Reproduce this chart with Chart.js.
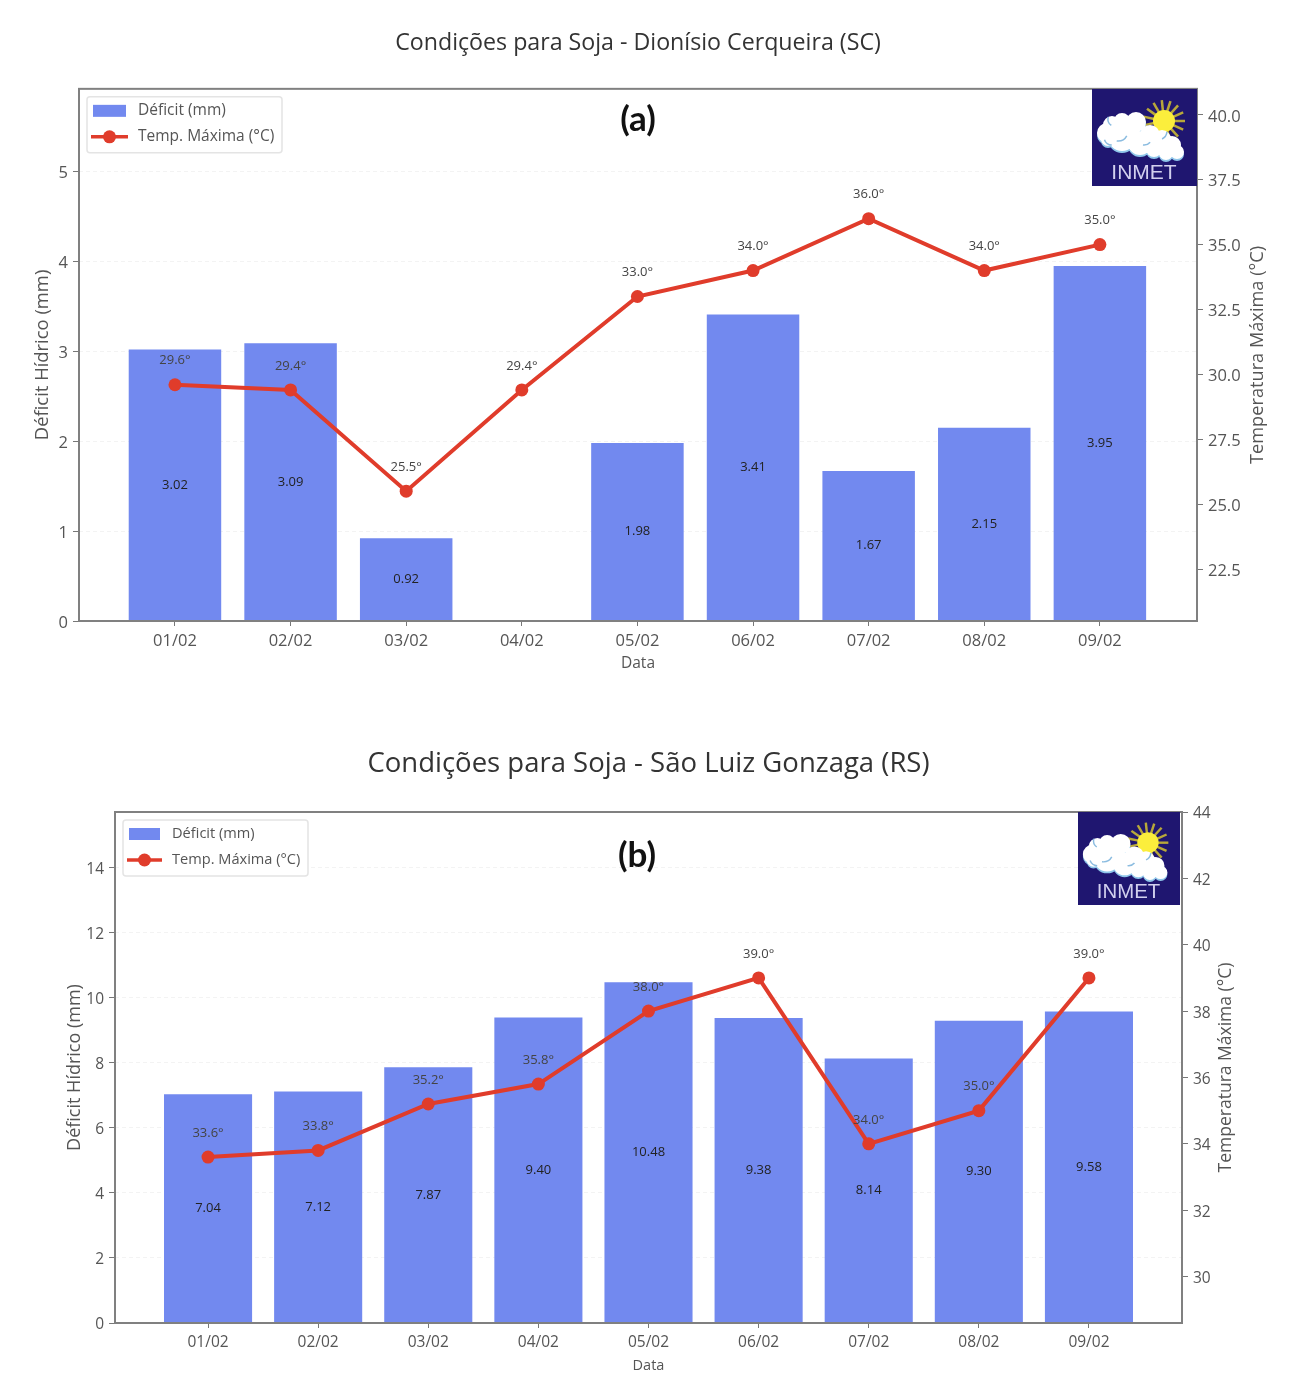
<!DOCTYPE html>
<html>
<head>
<meta charset="utf-8">
<style>
  html, body { margin: 0; padding: 0; background: #fff; }
  #page { position: relative; width: 1306px; height: 1382px; filter: blur(0.5px); }
  canvas { position: absolute; left: 0; }
</style>
<script src="https://cdn.jsdelivr.net/npm/chart.js@4/dist/chart.umd.min.js"></script>
</head>
<body>
<div id="page">
  <canvas id="chartA" style="top:0"></canvas>
  <canvas id="chartB" style="top:700px"></canvas>
</div>
<script>
const categories = ["01/02", "02/02", "03/02", "04/02", "05/02", "06/02", "07/02", "08/02", "09/02"];

const deficitA = [3.02, 3.09, 0.92, 0, 1.98, 3.41, 1.67, 2.15, 3.95];
const tempA = [29.6, 29.4, 25.5, 29.4, 33.0, 34.0, 36.0, 34.0, 35.0];

const deficitB = [7.04, 7.12, 7.87, 9.40, 10.48, 9.38, 8.14, 9.30, 9.58];
const tempB = [33.6, 33.8, 35.2, 35.8, 38.0, 39.0, 34.0, 35.0, 39.0];

const BAR_COLOR = "#7289ef";
const LINE_COLOR = "#e03c2b";
const TEXT_COLOR = "#555";
const FONT = "'Open Sans', sans-serif";

function drawLogo(ctx, x, y, w, h) {
  ctx.save();
  ctx.translate(x, y);
  ctx.scale(w / 105, h / 97);
  ctx.fillStyle = "#1f1670";
  ctx.fillRect(0, 0, 105, 97);

  // sun
  ctx.strokeStyle = "#b8a83a";
  ctx.lineWidth = 2.5;
  for (let a = 0; a < 360; a += 24) {
    const r = a * Math.PI / 180;
    ctx.beginPath();
    ctx.moveTo(72 + Math.cos(r) * 10, 32 + Math.sin(r) * 10);
    ctx.lineTo(72 + Math.cos(r) * 21, 32 + Math.sin(r) * 21);
    ctx.stroke();
  }
  ctx.fillStyle = "#fbee3c";
  ctx.beginPath();
  ctx.arc(72, 32, 11, 0, Math.PI * 2);
  ctx.fill();

  // cloud
  const puffs = [[15, 44, 10], [20, 36, 9], [30, 32, 8], [44, 33, 10], [30, 48, 14], [16, 50, 7], [58, 46, 10], [70, 50, 9], [80, 56, 9], [85, 63, 7], [48, 54, 12], [62, 60, 8], [74, 64, 7]];
  const outline = () => puffs.forEach(p => { ctx.moveTo(p[0] + p[2], p[1]); ctx.arc(p[0], p[1], p[2], 0, Math.PI * 2); });
  ctx.fillStyle = "#8fc6ea";
  ctx.save();
  ctx.translate(0, 2);
  ctx.beginPath();
  outline();
  ctx.fill();
  ctx.restore();
  ctx.fillStyle = "#fff";
  ctx.beginPath();
  outline();
  ctx.fill();
  ctx.strokeStyle = "#8bbce0";
  ctx.lineWidth = 1.5;
  [[26, 42, 10, 0.5, 1.7], [24, 30, 8, 2.2, 3.4], [52, 48, 8, 0.7, 1.7], [66, 42, 9, 0.1, 1.1], [20, 48, 8, 1.6, 2.8]].forEach(a => {
    ctx.beginPath();
    ctx.arc(a[0], a[1], a[2], a[3], a[4]);
    ctx.stroke();
  });

  ctx.fillStyle = "#d2d0ee";
  ctx.font = "21px 'Liberation Sans', sans-serif";
  ctx.textAlign = "center";
  ctx.textBaseline = "middle";
  ctx.fillText("INMET", 52, 84);
  ctx.restore();
}

const extras = {
  id: "extras",
  afterDatasetsDraw(chart, args, opts) {
    const { ctx, chartArea: area } = chart;
    const bars = chart.getDatasetMeta(1).data;
    const points = chart.getDatasetMeta(0).data;
    const deficit = chart.data.datasets[1].data;
    const temp = chart.data.datasets[0].data;

    ctx.save();
    ctx.textAlign = "center";
    ctx.textBaseline = "middle";

    ctx.fillStyle = "#222";
    ctx.font = opts.barFont + "px " + FONT;
    bars.forEach((bar, i) => {
      if (deficit[i].y > 0) ctx.fillText(deficit[i].y.toFixed(2), bar.x, (bar.y + bar.base) / 2);
    });

    ctx.fillStyle = "#444";
    points.forEach((pt, i) => {
      ctx.fillText(temp[i].y.toFixed(1) + "°", pt.x, pt.y - 24);
    });

    // frame
    ctx.strokeStyle = "#808080";
    ctx.lineWidth = 2;
    ctx.strokeRect(area.left, area.top, area.right - area.left, area.bottom - area.top);

    // panel tag
    ctx.fillStyle = "#111";
    ctx.font = "bold 35px Lato, sans-serif";
    ctx.fillText(opts.tag, opts.tagX, opts.tagY);

    // right axis title reads upward here, the library would turn it the other way
    ctx.save();
    ctx.translate(opts.rightTitleX, (area.top + area.bottom) / 2);
    ctx.rotate(-Math.PI / 2);
    ctx.fillStyle = TEXT_COLOR;
    ctx.font = opts.rightTitleSize + "px " + FONT;
    ctx.fillText("Temperatura Máxima (°C)", 0, 0);
    ctx.restore();

    // legend
    const lx = area.left + 8, ly = area.top + 8;
    ctx.fillStyle = "#fff";
    ctx.strokeStyle = "#e4e4e4";
    ctx.lineWidth = 1.5;
    ctx.beginPath();
    ctx.roundRect(lx, ly, opts.legendW, 56, 3);
    ctx.fill();
    ctx.stroke();
    ctx.fillStyle = BAR_COLOR;
    ctx.fillRect(lx + 6, ly + 8, opts.swatchW, 12);
    ctx.strokeStyle = LINE_COLOR;
    ctx.lineWidth = 3.5;
    ctx.beginPath();
    ctx.moveTo(lx + 4, ly + 40);
    ctx.lineTo(lx + 8 + opts.swatchW, ly + 40);
    ctx.stroke();
    ctx.fillStyle = LINE_COLOR;
    ctx.beginPath();
    ctx.arc(lx + 6 + opts.swatchW / 2, ly + 40, 6.5, 0, Math.PI * 2);
    ctx.fill();
    ctx.fillStyle = TEXT_COLOR;
    ctx.font = opts.legendFont + "px " + FONT;
    ctx.textAlign = "left";
    ctx.fillText(chart.data.datasets[1].label, lx + opts.swatchW + 18, ly + 14);
    ctx.fillText(chart.data.datasets[0].label, lx + opts.swatchW + 18, ly + 40);

    drawLogo(ctx, opts.logo[0], opts.logo[1], opts.logo[2], opts.logo[3]);
    ctx.restore();
  }
};

function makeChart(id, c) {
  const canvas = document.getElementById(id);
  canvas.width = 1306;
  canvas.height = c.height;
  canvas.style.width = "1306px";
  canvas.style.height = c.height + "px";

  return new Chart(canvas, {
    type: "bar",
    plugins: [extras],
    data: {
      datasets: [
        {
          type: "line",
          label: "Temp. Máxima (°C)",
          data: categories.map((_, i) => ({ x: i, y: c.temp[i] })),
          yAxisID: "yR",
          borderColor: LINE_COLOR,
          backgroundColor: LINE_COLOR,
          borderWidth: 4,
          pointRadius: 6.5,
          pointBorderWidth: 0,
          pointHoverRadius: 6.5,
          tension: 0,
          order: 0,
        },
        {
          type: "bar",
          label: "Déficit (mm)",
          data: categories.map((_, i) => ({ x: i, y: c.deficit[i] })),
          yAxisID: "yL",
          backgroundColor: BAR_COLOR,
          categoryPercentage: 1,
          barPercentage: 0.8,
          order: 1,
        },
      ],
    },
    options: {
      responsive: false,
      animation: false,
      devicePixelRatio: 1,
      layout: { padding: 0 },
      plugins: {
        legend: { display: false },
        tooltip: { enabled: false },
        title: {
          display: true,
          fullSize: false,
          text: c.title,
          color: "#333",
          font: { family: FONT, size: c.titleSize, weight: "normal", lineHeight: 1.2 },
          padding: c.titlePad,
        },
        extras: c.extras,
      },
      scales: {
        x: {
          type: "linear",
          offset: false,
          min: c.xRange[0],
          max: c.xRange[1],
          afterBuildTicks: scale => { scale.ticks = categories.map((_, i) => ({ value: i })); },
          afterFit: scale => { scale.height = c.xAxisH; },
          grid: { display: true, drawOnChartArea: false, offset: false, tickLength: 5, color: "#777" },
          border: { display: false },
          ticks: {
            color: TEXT_COLOR,
            font: { family: FONT, size: c.tickSize },
            maxRotation: 0,
            autoSkip: false,
            padding: 5,
            callback: v => categories[v],
          },
          title: {
            display: true,
            text: "Data",
            color: TEXT_COLOR,
            font: { family: FONT, size: c.xTitleSize },
            padding: { top: 0, bottom: c.xTitlePad },
          },
        },
        yL: {
          position: "left",
          min: 0,
          max: c.leftMax,
          afterFit: scale => { scale.width = c.leftW; },
          grid: { color: "#f3f3f3", tickColor: "#777", tickLength: 6, lineWidth: 1 },
          border: { display: false, dash: [4, 3] },
          ticks: {
            stepSize: c.leftStep,
            includeBounds: false,
            color: TEXT_COLOR,
            font: { family: FONT, size: c.tickSize },
            padding: 5,
            labelOffset: 2,
          },
          title: {
            display: true,
            text: "Déficit Hídrico (mm)",
            color: TEXT_COLOR,
            font: { family: FONT, size: c.leftTitleSize },
            padding: { top: c.leftTitlePad, bottom: 0 },
          },
        },
        yR: {
          position: "right",
          min: c.rightRange[0],
          max: c.rightRange[1],
          afterFit: scale => { scale.width = c.rightW; },
          grid: { drawOnChartArea: false, tickColor: "#777", tickLength: 6 },
          border: { display: false },
          ticks: {
            stepSize: c.rightStep,
            includeBounds: false,
            color: TEXT_COLOR,
            font: { family: FONT, size: c.tickSize },
            padding: 5,
            labelOffset: 2,
            callback: v => c.rightStep % 1 ? v.toFixed(1) : String(v),
          },
        },
      },
    },
  });
}

makeChart("chartA", {
  height: 700,
  deficit: deficitA,
  temp: tempA,
  title: "Condições para Soja - Dionísio Cerqueira (SC)",
  titleSize: 23.2,
  titlePad: { top: 29, bottom: 32 },
  xRange: [-0.83, 8.84],
  xAxisH: 79,
  xTitlePad: 27,
  tickSize: 16.5,
  xTitleSize: 15.5,
  leftTitleSize: 18.4,
  leftW: 79,
  leftMax: 5.92,
  leftStep: 1,
  leftTitlePad: 32,
  rightW: 109,
  rightRange: [20.5, 41],
  rightStep: 2.5,
  extras: { tag: "(a)", tagX: 638, tagY: 120, barFont: 13, legendFont: 15.5, legendW: 195, swatchW: 33, logo: [1092, 89, 105, 97], rightTitleX: 1258, rightTitleSize: 18.2 },
});

makeChart("chartB", {
  height: 682,
  deficit: deficitB,
  temp: tempB,
  title: "Condições para Soja - São Luiz Gonzaga (RS)",
  titleSize: 27.5,
  titlePad: { top: 48, bottom: 31 },
  xRange: [-0.845, 8.845],
  xAxisH: 59,
  xTitlePad: 7,
  tickSize: 15.5,
  xTitleSize: 14.5,
  leftTitleSize: 18,
  leftW: 115,
  leftMax: 15.72,
  leftStep: 2,
  leftTitlePad: 64,
  rightW: 124,
  rightRange: [28.6, 44],
  rightStep: 2,
  extras: { tag: "(b)", tagX: 637, tagY: 156, barFont: 13, legendFont: 14.6, legendW: 185, swatchW: 31, logo: [1078, 112, 102, 93], rightTitleX: 1226, rightTitleSize: 17.5 },
});
</script>
</body>
</html>
